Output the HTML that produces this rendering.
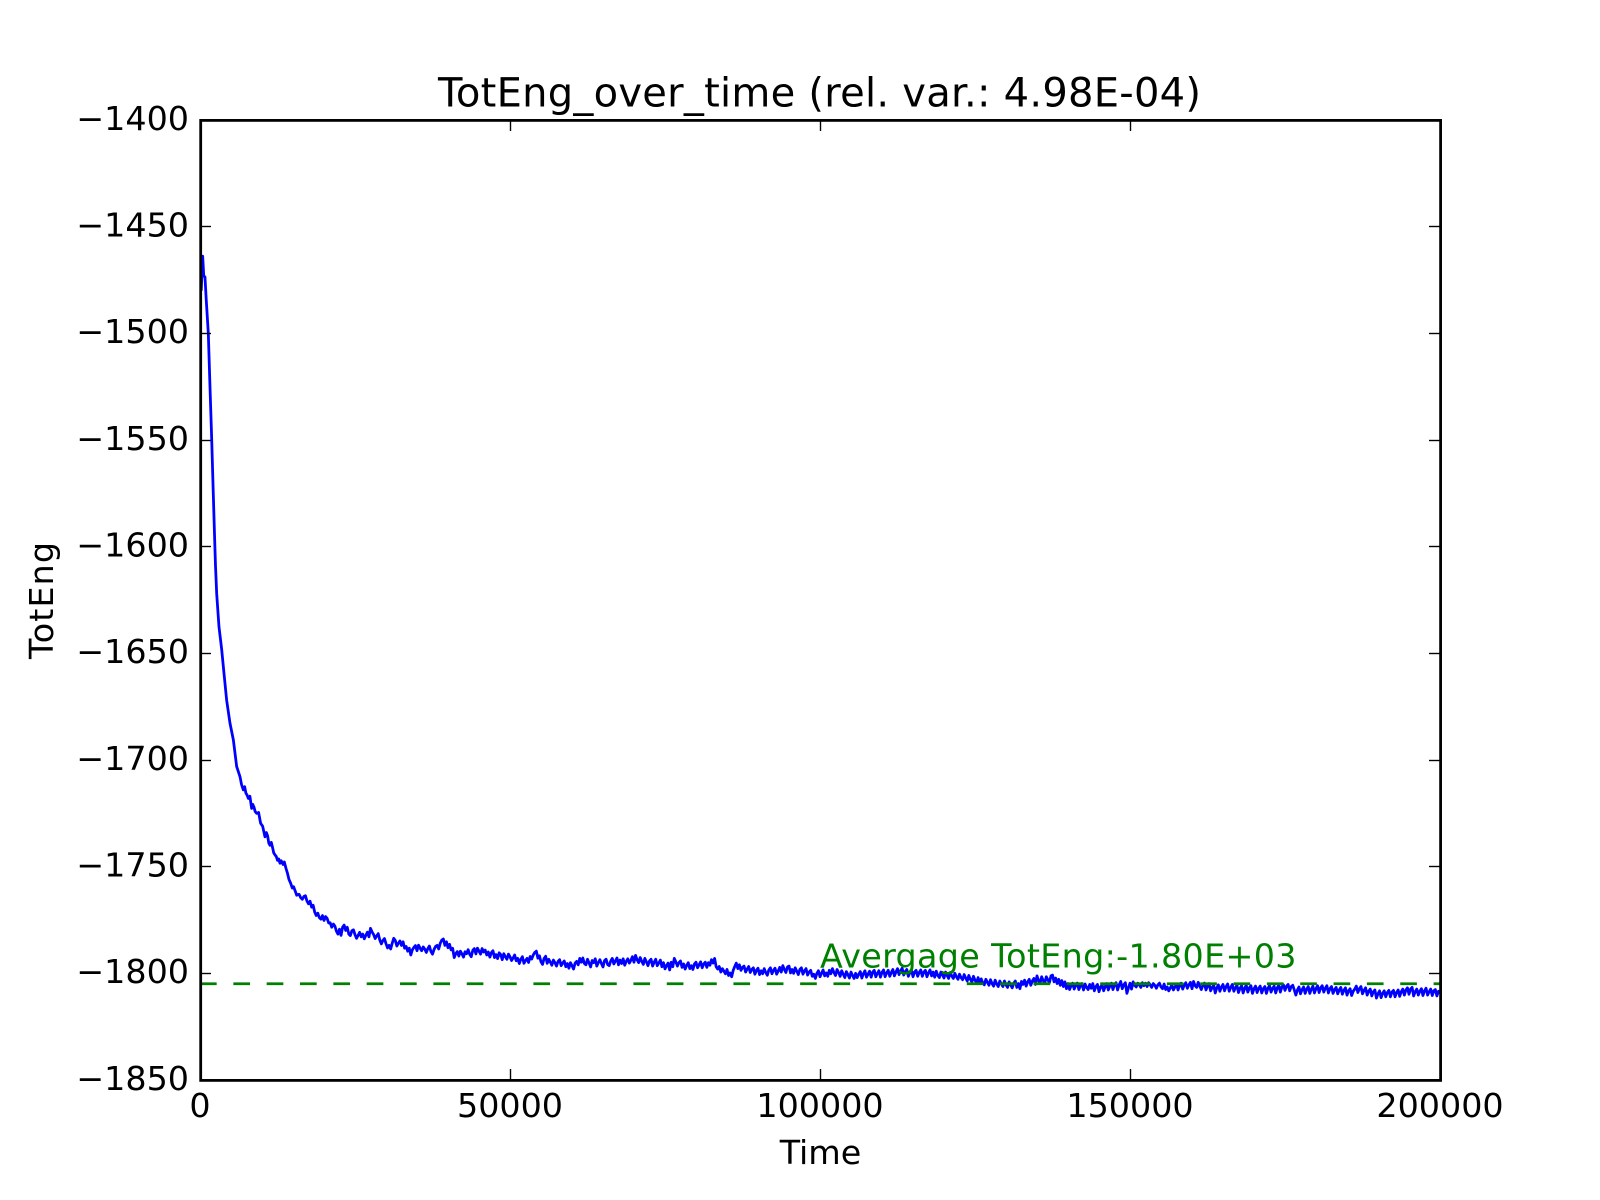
<!DOCTYPE html>
<html lang="en">
<head>
<meta charset="utf-8">
<title>TotEng_over_time</title>
<style>
html,body{margin:0;padding:0;background:#fff;}
svg{display:block;}
text{font-family:"DejaVu Sans","Liberation Sans",sans-serif;fill:#000;}
</style>
</head>
<body>
<svg id="chart" xmlns="http://www.w3.org/2000/svg" width="1600" height="1200" viewBox="0 0 1600 1200">
  <rect x="0" y="0" width="1600" height="1200" fill="#ffffff"/>
  <defs><clipPath id="plot-clip"><rect x="200" y="120" width="1240" height="960"/></clipPath></defs>
  <g id="series-layer" clip-path="url(#plot-clip)"></g>
  <g id="tick-layer"></g>
  <rect x="200.7" y="120.4" width="1239.9" height="960" fill="none" stroke="#000" stroke-width="2.78"/>
  <g id="label-layer"></g>
  <text x="819.5" y="106.5" text-anchor="middle" font-size="40" textLength="763">TotEng_over_time (rel. var.: 4.98E-04)</text>
  <text x="820.5" y="1164" text-anchor="middle" font-size="33.33">Time</text>
  <text transform="translate(53 600.5) rotate(-90)" text-anchor="middle" font-size="33.33" textLength="117">TotEng</text>
  <text id="avg-label" font-size="33.33" textLength="476.5" style="fill:#008000">Avergage TotEng:-1.80E+03</text>
</svg>
<script>
const xTicks = [0, 50000, 100000, 150000, 200000];
const yTicks = [-1400, -1450, -1500, -1550, -1600, -1650, -1700, -1750, -1800, -1850];
const averageValue = -1804.9;
const annotationTime = 100000;
const annotationValue = -1797.3;

const earlyTimes = [
200,430,600,800,1000,1340,1600,1890,2130,2370,
2500,2690,3060,3490,3870,4300,4840,5380,5910,6450,
6700,6990,7200,7400,7600,7800,8050,8330,8500,8700,
8900,9140,9450,9780,10100,10480,10700,10900,11100,11290,
11500,11700,11900,12100,12300,12500,12700,12900,13100,13400,
13600,13870,14100,14350,14600,14890,15100,15300,15600,15860
];
const earlyEnergy = [
-1480,-1463.8,-1473,-1473.5,-1484,-1500,-1524,-1550,-1574,-1597,
-1609,-1622,-1637.5,-1648,-1659.4,-1672,-1682.8,-1690.6,-1703,-1707.8,
-1711.5,-1714,-1712.5,-1715.5,-1716.5,-1718,-1717,-1722.7,-1720.8,-1722,
-1724.2,-1725,-1724.6,-1729.7,-1731,-1736,-1734,-1735.5,-1739,-1740,
-1738.6,-1741,-1743.6,-1744.5,-1745.2,-1747,-1746.4,-1748.4,-1747.2,-1749,
-1747.8,-1750.8,-1753,-1756,-1757.6,-1760,-1759.4,-1761,-1763.4,-1763
];

const sampleStart = 16000;
const sampleStep = 250;
const sampledEnergy = [
/* 16000 */ -1763.0,-1764.6,-1765.3,-1764.0,-1763.6,-1766.1,-1767.4,-1766.2,-1769.0,-1768.1,-1771.3,-1772.9,-1771.8,-1773.9,-1774.6,-1772.9,-1775.2,-1773.4,-1774.2,-1776.4,
/* 21000 */ -1776.3,-1778.4,-1776.9,-1777.8,-1780.2,-1781.6,-1779.3,-1782.2,-1778.4,-1777.4,-1779.9,-1778.4,-1781.6,-1782.3,-1780.0,-1779.6,-1781.9,-1783.6,-1782.2,-1780.8,
/* 26000 */ -1782.9,-1781.6,-1783.8,-1782.2,-1780.7,-1782.9,-1778.9,-1780.6,-1781.8,-1783.7,-1782.4,-1781.4,-1784.4,-1786.2,-1784.6,-1783.7,-1786.1,-1788.1,-1786.9,-1788.6,
/* 31000 */ -1785.9,-1783.6,-1784.6,-1787.2,-1785.9,-1784.8,-1786.9,-1785.2,-1788.2,-1787.4,-1789.6,-1788.2,-1791.4,-1789.0,-1787.8,-1787.0,-1789.4,-1786.8,-1788.2,-1789.4,
/* 36000 */ -1787.6,-1788.6,-1790.2,-1788.4,-1787.2,-1789.8,-1791.0,-1788.8,-1787.4,-1786.9,-1788.6,-1785.9,-1784.4,-1783.9,-1786.9,-1785.2,-1788.0,-1786.4,-1789.0,-1788.3,
/* 41000 */ -1792.6,-1790.8,-1789.8,-1791.9,-1789.6,-1790.9,-1792.4,-1789.9,-1790.8,-1788.9,-1791.1,-1792.2,-1789.2,-1788.4,-1790.9,-1788.2,-1789.6,-1791.0,-1788.4,-1790.0,
/* 46000 */ -1789.1,-1791.4,-1790.0,-1792.4,-1790.3,-1789.4,-1792.6,-1791.2,-1793.1,-1790.4,-1791.2,-1793.6,-1790.8,-1792.2,-1793.4,-1791.0,-1792.2,-1794.0,-1792.8,-1791.4,
/* 51000 */ -1794.1,-1793.0,-1795.4,-1793.4,-1792.2,-1795.3,-1794.0,-1793.0,-1794.9,-1792.1,-1793.3,-1791.4,-1790.2,-1789.6,-1792.9,-1791.8,-1794.6,-1795.8,-1793.0,-1792.0,
/* 56000 */ -1795.3,-1793.4,-1794.7,-1796.2,-1793.8,-1795.0,-1796.6,-1794.4,-1793.6,-1796.4,-1795.2,-1794.2,-1796.9,-1795.4,-1797.6,-1795.0,-1796.4,-1798.0,-1795.2,-1794.4,
/* 61000 */ -1796.0,-1793.0,-1794.8,-1792.8,-1795.4,-1796.0,-1793.4,-1795.1,-1797.0,-1794.0,-1795.0,-1793.2,-1796.6,-1795.0,-1793.6,-1795.4,-1797.0,-1794.0,-1793.4,-1795.9,
/* 66000 */ -1796.4,-1794.2,-1793.0,-1795.6,-1794.2,-1792.8,-1796.0,-1793.8,-1795.4,-1793.2,-1796.2,-1794.4,-1793.2,-1795.2,-1793.9,-1792.2,-1794.8,-1791.6,-1793.6,-1795.0,
/* 71000 */ -1792.6,-1794.4,-1795.8,-1793.0,-1794.6,-1796.4,-1794.2,-1793.4,-1796.6,-1794.8,-1793.4,-1796.4,-1795.2,-1793.8,-1796.9,-1795.0,-1797.9,-1796.4,-1795.2,-1798.4,
/* 76000 */ -1794.8,-1796.9,-1793.0,-1794.6,-1796.6,-1795.0,-1794.2,-1797.2,-1795.6,-1798.0,-1796.2,-1795.0,-1797.8,-1796.4,-1798.2,-1795.6,-1794.8,-1797.4,-1796.0,-1794.6,
/* 81000 */ -1797.4,-1795.6,-1794.8,-1797.2,-1795.0,-1796.2,-1793.6,-1795.2,-1793.0,-1796.9,-1798.0,-1796.8,-1799.4,-1797.8,-1799.0,-1800.2,-1798.2,-1801.0,-1799.8,-1801.6,
/* 86000 */ -1798.6,-1796.8,-1795.2,-1797.8,-1796.0,-1798.6,-1797.2,-1796.6,-1799.4,-1798.0,-1796.8,-1799.6,-1798.2,-1797.4,-1800.4,-1798.6,-1797.6,-1800.6,-1798.8,-1800.2,
/* 91000 */ -1797.8,-1799.6,-1800.9,-1798.4,-1797.4,-1800.2,-1798.6,-1797.6,-1800.4,-1799.0,-1797.2,-1799.4,-1796.4,-1798.2,-1799.6,-1797.0,-1796.6,-1799.8,-1798.2,-1800.0,
/* 96000 */ -1797.4,-1799.0,-1800.6,-1798.2,-1797.4,-1800.4,-1798.8,-1797.8,-1800.8,-1799.4,-1798.6,-1801.4,-1800.4,-1802.4,-1800.0,-1798.8,-1801.6,-1800.0,-1798.4,-1801.2,
/* 101000 */ -1799.8,-1801.4,-1798.6,-1800.2,-1797.8,-1799.6,-1801.0,-1798.2,-1799.6,-1801.4,-1798.8,-1800.4,-1802.0,-1799.2,-1800.6,-1802.2,-1799.4,-1801.0,-1802.4,-1800.0,
/* 106000 */ -1802.0,-1800.4,-1799.2,-1802.2,-1800.2,-1798.8,-1801.8,-1800.4,-1799.0,-1801.8,-1799.4,-1798.6,-1801.6,-1800.0,-1798.8,-1801.8,-1799.6,-1798.4,-1801.6,-1799.8,
/* 111000 */ -1798.6,-1801.4,-1799.6,-1798.2,-1801.2,-1799.4,-1797.8,-1800.6,-1798.8,-1797.6,-1800.8,-1799.2,-1798.2,-1801.4,-1799.6,-1798.4,-1801.6,-1799.4,-1798.6,-1801.4,
/* 116000 */ -1799.6,-1798.4,-1801.4,-1799.4,-1798.6,-1801.6,-1799.8,-1798.4,-1801.2,-1799.4,-1801.8,-1799.0,-1801.0,-1802.0,-1799.4,-1800.8,-1802.2,-1799.4,-1801.0,-1802.4,
/* 121000 */ -1799.6,-1801.2,-1802.4,-1800.0,-1801.6,-1802.8,-1800.4,-1802.0,-1803.0,-1800.6,-1802.2,-1803.6,-1801.0,-1802.8,-1804.0,-1801.4,-1803.2,-1804.4,-1802.0,-1804.8,
/* 126000 */ -1802.6,-1804.4,-1805.4,-1802.8,-1804.2,-1805.6,-1803.0,-1804.8,-1806.0,-1803.2,-1805.0,-1806.2,-1803.6,-1805.0,-1806.2,-1803.6,-1805.4,-1806.6,-1804.0,-1805.4,
/* 131000 */ -1806.8,-1804.6,-1803.6,-1806.6,-1804.8,-1807.2,-1803.8,-1805.2,-1803.2,-1806.0,-1804.0,-1802.8,-1805.6,-1803.6,-1802.4,-1805.2,-1801.2,-1803.4,-1804.6,-1801.6,
/* 136000 */ -1803.4,-1804.6,-1801.6,-1803.0,-1804.4,-1801.2,-1800.8,-1804.0,-1802.2,-1804.8,-1802.8,-1805.6,-1803.4,-1806.2,-1804.0,-1807.2,-1804.8,-1807.6,-1805.8,-1804.6,
/* 141000 */ -1807.4,-1805.6,-1804.6,-1807.6,-1805.8,-1804.8,-1807.8,-1805.0,-1806.6,-1807.6,-1805.2,-1807.0,-1804.8,-1808.2,-1806.2,-1805.2,-1808.6,-1806.4,-1805.4,-1808.2,
/* 146000 */ -1806.2,-1804.8,-1807.8,-1806.0,-1804.6,-1807.6,-1805.4,-1804.4,-1807.8,-1805.4,-1803.8,-1807.2,-1805.4,-1804.4,-1809.4,-1806.8,-1804.6,-1807.4,-1804.0,-1805.6,
/* 151000 */ -1806.4,-1804.6,-1805.4,-1806.6,-1804.4,-1805.8,-1804.6,-1806.2,-1804.4,-1805.4,-1806.6,-1804.8,-1805.6,-1807.0,-1805.4,-1804.6,-1806.4,-1807.2,-1805.0,-1807.6,
/* 156000 */ -1806.4,-1808.2,-1806.8,-1805.4,-1807.8,-1806.4,-1805.0,-1807.8,-1805.8,-1804.6,-1807.4,-1805.6,-1804.4,-1807.0,-1805.4,-1804.2,-1807.2,-1803.8,-1805.8,-1806.6,
/* 161000 */ -1804.2,-1806.0,-1807.6,-1805.6,-1804.6,-1807.8,-1806.0,-1804.8,-1808.2,-1806.6,-1805.6,-1809.2,-1806.8,-1805.4,-1808.4,-1806.4,-1805.2,-1808.2,-1806.2,-1805.0,
/* 166000 */ -1808.4,-1806.6,-1805.2,-1808.4,-1806.8,-1805.6,-1809.0,-1807.0,-1805.8,-1809.2,-1807.0,-1805.6,-1808.8,-1806.8,-1805.8,-1809.4,-1807.2,-1806.0,-1809.0,-1807.0,
/* 171000 */ -1806.0,-1809.2,-1807.2,-1806.2,-1809.4,-1807.0,-1805.8,-1808.8,-1807.0,-1806.0,-1809.2,-1806.8,-1805.6,-1808.8,-1806.4,-1805.4,-1808.0,-1806.0,-1805.2,-1808.2,
/* 176000 */ -1806.2,-1805.6,-1807.8,-1810.2,-1807.8,-1806.4,-1809.6,-1807.6,-1806.4,-1809.4,-1807.4,-1806.2,-1809.4,-1807.4,-1806.0,-1809.2,-1807.2,-1805.8,-1809.0,-1806.8,
/* 181000 */ -1805.8,-1808.8,-1807.0,-1805.8,-1809.2,-1807.2,-1806.2,-1809.4,-1807.6,-1806.6,-1809.6,-1807.8,-1806.6,-1809.8,-1808.0,-1806.8,-1810.2,-1808.2,-1807.2,-1810.4,
/* 186000 */ -1808.4,-1807.4,-1806.0,-1809.0,-1807.2,-1806.2,-1809.6,-1808.0,-1806.8,-1810.2,-1808.4,-1807.4,-1810.6,-1808.6,-1807.8,-1811.6,-1809.6,-1808.2,-1811.4,-1809.4,
/* 191000 */ -1808.2,-1811.0,-1809.0,-1808.0,-1811.0,-1808.8,-1808.0,-1811.0,-1809.0,-1807.8,-1810.8,-1808.6,-1807.4,-1810.2,-1807.8,-1806.8,-1809.8,-1807.4,-1806.6,-1810.6,
/* 196000 */ -1808.6,-1807.4,-1810.2,-1808.4,-1807.2,-1810.4,-1808.2,-1807.0,-1810.2,-1808.6,-1807.4,-1810.4,-1808.2,-1807.6,-1810.6,-1808.4,-1809.4
];

const SVG_NS = 'http://www.w3.org/2000/svg';
const xMin = 0, xMax = 200000, yTop = -1400, yBottom = -1850;
const plotLeft = 200, plotRight = 1440, plotTop = 120, plotBottom = 1080;

function xScale(t) {
  return plotLeft + (t - xMin) / (xMax - xMin) * (plotRight - plotLeft);
}
function yScale(v) {
  return plotTop + (v - yTop) / (yBottom - yTop) * (plotBottom - plotTop);
}
function make(tag, attrs) {
  const el = document.createElementNS(SVG_NS, tag);
  for (const k in attrs) el.setAttribute(k, attrs[k]);
  return el;
}
function fmt(v) {
  return v < 0 ? '\u2212' + Math.abs(v) : String(v);
}
function snap(p) {
  return Math.floor(p) + 0.5;
}

const seriesLayer = document.getElementById('series-layer');
const tickLayer = document.getElementById('tick-layer');
const labelLayer = document.getElementById('label-layer');

let lineCoords = '';
earlyTimes.forEach(function (t, i) {
  lineCoords += xScale(t).toFixed(2) + ',' + yScale(earlyEnergy[i]).toFixed(2) + ' ';
});
sampledEnergy.forEach(function (v, i) {
  lineCoords += xScale(sampleStart + i * sampleStep).toFixed(2) + ',' + yScale(v).toFixed(2) + ' ';
});
const seriesLine = make('polyline', {points: lineCoords, fill: 'none', stroke: '#0000ff', 'stroke-width': 2.78, 'stroke-linejoin': 'round'});


seriesLayer.appendChild(seriesLine);

const averageLine = make('line', {x1: plotLeft, x2: plotRight, y1: yScale(averageValue), y2: yScale(averageValue), stroke: '#008000', 'stroke-width': 2.78, 'stroke-dasharray': '16.67 16.67'});


seriesLayer.appendChild(averageLine);

const avgLabel = document.getElementById('avg-label');
avgLabel.setAttribute('x', xScale(annotationTime));
avgLabel.setAttribute('y', yScale(annotationValue));

const tickLen = 11;
xTicks.forEach(function (t) {
  const x = xScale(t);
  const xs = snap(x);
  [[plotBottom, plotBottom - tickLen], [plotTop, plotTop + tickLen]].forEach(function (p) {
    const tick = make('line', {x1: xs, x2: xs, y1: p[0], y2: p[1], stroke: '#000', 'stroke-width': 1.39});
    
    
    tickLayer.appendChild(tick);
  });
  const label = make('text', {x: x, y: 1117, 'text-anchor': 'middle', 'font-size': 33.33});
  
  
  label.textContent = fmt(t);
  labelLayer.appendChild(label);
});
yTicks.forEach(function (v) {
  const y = yScale(v);
  const ys = snap(y);
  [[plotLeft, plotLeft + tickLen], [plotRight, plotRight - tickLen]].forEach(function (p) {
    const tick = make('line', {x1: p[0], x2: p[1], y1: ys, y2: ys, stroke: '#000', 'stroke-width': 1.39});
    
    
    tickLayer.appendChild(tick);
  });
  const label = make('text', {x: 189, y: y + 9.9, 'text-anchor': 'end', 'font-size': 33.33});
  
  
  label.textContent = fmt(v);
  labelLayer.appendChild(label);
});
</script>
</body>
</html>
